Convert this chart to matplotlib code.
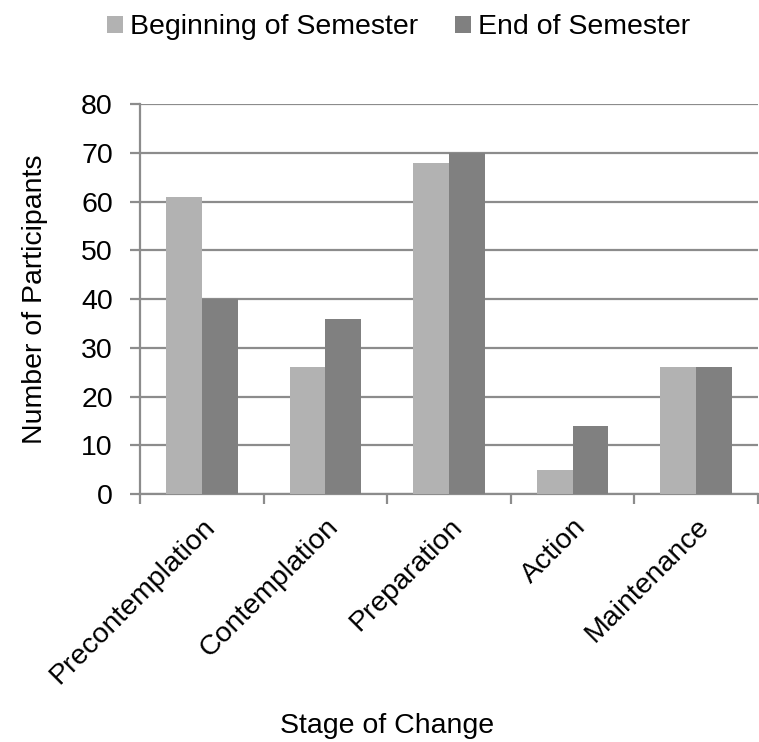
import matplotlib.pyplot as plt
import numpy as np

plt.rcParams["font.family"] = ["Liberation Sans", "DejaVu Sans"]

# data
stages = ["Precontemplation", "Contemplation", "Preparation", "Action", "Maintenance"]
beginning = [61, 26, 68, 5, 26]
end = [40, 36, 70, 14, 26]

light = "#b2b2b2"
dark = "#808080"
grid_col = "#8c8c8c"
fs = 20.5

fig = plt.figure(figsize=(7.59, 7.42), dpi=100)
ax = fig.add_axes([0.1845, 0.3342, 0.8142, 0.5256])

x = np.arange(len(stages))
w = 0.29
ax.bar(x - w / 2, beginning, w, color=light, label="Beginning of Semester", zorder=3)
ax.bar(x + w / 2, end, w, color=dark, label="End of Semester", zorder=3)

ax.set_xlim(-0.5, len(stages) - 0.5)
ax.set_ylim(0, 80)
ax.set_yticks(range(0, 81, 10))
ax.yaxis.grid(True, color=grid_col, linewidth=1.6, zorder=0)
ax.set_axisbelow(True)

for s in ["top", "right"]:
    ax.spines[s].set_visible(False)
for s in ["left", "bottom"]:
    ax.spines[s].set_color(grid_col)
    ax.spines[s].set_linewidth(1.6)

# category ticks at boundaries, labels centered
ax.set_xticks(np.arange(-0.5, len(stages), 1.0))
ax.set_xticklabels([])
ax.set_xticks(x, minor=True)
ax.set_xticklabels(stages, minor=True, rotation=45, ha="right",
                   rotation_mode="anchor", fontsize=fs)
ax.tick_params(axis="x", which="minor", length=0, pad=14)
ax.tick_params(axis="x", which="major", length=7, width=1.6, color=grid_col)
ax.tick_params(axis="y", length=7, width=1.6, color=grid_col, labelsize=fs, pad=12.5)

ax.set_ylabel("Number of Participants", fontsize=fs, labelpad=24)
fig.text(0.51, 0.022, "Stage of Change", ha="center", va="center", fontsize=fs)

fig.legend(loc="upper center", bbox_to_anchor=(0.525, 1.015), ncol=2, frameon=False,
           fontsize=fs, handlelength=0.55, handleheight=0.55, handletextpad=0.25,
           columnspacing=1.3)

plt.savefig("out.png", dpi=100)
